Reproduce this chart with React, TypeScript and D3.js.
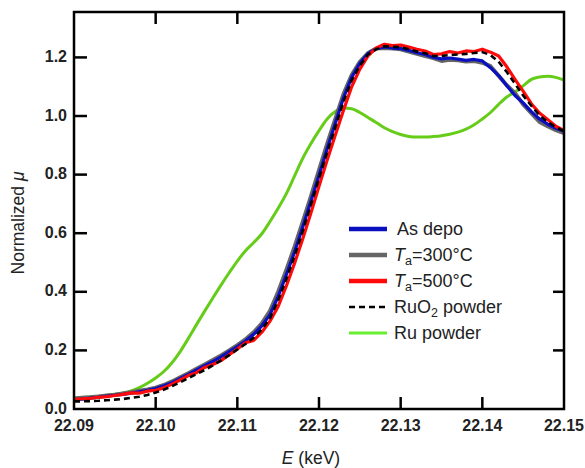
import React from 'react';
import * as d3 from 'd3';

// energy grid (keV), 1 eV steps
const energy = d3.range(61).map(i => +(22.09 + i * 0.001).toFixed(3));

const asDepo = [
  0.032, 0.034, 0.037, 0.040, 0.044, 0.047, 0.050, 0.054, 0.059, 0.064,
  0.070, 0.079, 0.090, 0.104, 0.118, 0.133, 0.148, 0.162, 0.178, 0.196,
  0.213, 0.232, 0.255, 0.284, 0.322, 0.384, 0.458, 0.535, 0.620, 0.708,
  0.797, 0.888, 0.975, 1.062, 1.132, 1.180, 1.213, 1.230, 1.236, 1.232,
  1.230, 1.224, 1.216, 1.210, 1.200, 1.195, 1.198, 1.194, 1.190, 1.193,
  1.188, 1.165, 1.138, 1.103, 1.070, 1.045, 1.015, 0.990, 0.972, 0.958,
  0.948,
];

const ta300 = [
  0.036, 0.038, 0.040, 0.043, 0.046, 0.049, 0.053, 0.057, 0.062, 0.067,
  0.073, 0.082, 0.094, 0.108, 0.122, 0.137, 0.152, 0.167, 0.183, 0.200,
  0.218, 0.238, 0.262, 0.292, 0.335, 0.400, 0.475, 0.553, 0.638, 0.725,
  0.815, 0.905, 0.990, 1.075, 1.140, 1.185, 1.215, 1.230, 1.232, 1.230,
  1.228, 1.220, 1.212, 1.205, 1.198, 1.188, 1.192, 1.190, 1.186, 1.188,
  1.182, 1.170, 1.137, 1.105, 1.078, 1.040, 1.010, 0.980, 0.965, 0.952,
  0.942,
];

const ta500 = [
  0.033, 0.035, 0.036, 0.040, 0.042, 0.046, 0.050, 0.055, 0.054, 0.061,
  0.064, 0.072, 0.085, 0.099, 0.114, 0.124, 0.142, 0.152, 0.165, 0.185,
  0.205, 0.226, 0.234, 0.262, 0.300, 0.350, 0.420, 0.497, 0.580, 0.668,
  0.760, 0.850, 0.935, 1.020, 1.100, 1.160, 1.205, 1.232, 1.245, 1.240,
  1.242, 1.235, 1.228, 1.222, 1.210, 1.212, 1.220, 1.215, 1.222, 1.220,
  1.228, 1.218, 1.205, 1.168, 1.125, 1.085, 1.042, 1.010, 0.988, 0.965,
  0.950,
];

const ruo2 = [
  0.026, 0.026, 0.027, 0.028, 0.030, 0.032, 0.034, 0.038, 0.042, 0.048,
  0.056, 0.066, 0.078, 0.091, 0.105, 0.119, 0.133, 0.149, 0.166, 0.184,
  0.203, 0.222, 0.243, 0.272, 0.310, 0.372, 0.444, 0.522, 0.607, 0.697,
  0.787, 0.877, 0.962, 1.050, 1.122, 1.172, 1.210, 1.228, 1.238, 1.236,
  1.235, 1.228, 1.220, 1.214, 1.205, 1.205, 1.208, 1.210, 1.212, 1.215,
  1.218, 1.208, 1.185, 1.150, 1.110, 1.070, 1.035, 1.002, 0.980, 0.962,
  0.948,
];

const ru = [
  0.037, 0.039, 0.041, 0.043, 0.046, 0.050, 0.055, 0.062, 0.073, 0.088,
  0.106, 0.128, 0.158, 0.196, 0.241, 0.288, 0.334, 0.379, 0.423, 0.465,
  0.505, 0.540, 0.568, 0.598, 0.640, 0.685, 0.735, 0.795, 0.855, 0.905,
  0.950, 0.990, 1.015, 1.027, 1.025, 1.012, 0.995, 0.978, 0.960, 0.947,
  0.937, 0.930, 0.928, 0.928, 0.930, 0.933, 0.938, 0.945, 0.955, 0.970,
  0.990, 1.012, 1.040, 1.065, 1.082, 1.103, 1.125, 1.133, 1.136, 1.132,
  1.123,
];

const xTicks = [22.09, 22.10, 22.11, 22.12, 22.13, 22.14, 22.15];
const yTicks = [0.0, 0.2, 0.4, 0.6, 0.8, 1.0, 1.2];

const W = 585;
const H = 468;
const m = { left: 74, right: 564, top: 12, bottom: 409 };

const App = () => {
  const x = d3.scaleLinear().domain([22.09, 22.15]).range([m.left, m.right]);
  const y = d3.scaleLinear().domain([0, 1.355]).range([m.bottom, m.top]);

  const makeLine = (curve: d3.CurveFactory) => d3.line<number>()
    .x((_, i) => x(energy[i]))
    .y(d => y(d))
    .curve(curve);
  const rough = makeLine(d3.curveLinear);
  const smooth = makeLine(d3.curveMonotoneX);

  const series = [
    { key: 'ru', values: ru, color: '#66cc1a', width: 3, dash: null, gen: smooth },
    { key: 'ta300', values: ta300, color: '#666666', width: 4, dash: null, gen: rough },
    { key: 'asdepo', values: asDepo, color: '#0a10c0', width: 3.2, dash: null, gen: rough },
    { key: 'ta500', values: ta500, color: '#ff0a0a', width: 3.2, dash: null, gen: rough },
    { key: 'ruo2', values: ruo2, color: '#000000', width: 2.6, dash: '6,4', gen: rough },
  ];

  const font = '"Liberation Sans", Arial, sans-serif';
  const legendX0 = 349;
  const legendX1 = 387;
  const legendTextX = 394;
  const legendY = [229, 255, 281, 307, 333];

  return (
    <svg width={W} height={H} style={{ position: 'absolute', left: 0, top: 0, background: '#fff' }}
      fontFamily={font}>
      <defs>
        <clipPath id="plot">
          <rect x={m.left} y={m.top} width={m.right - m.left} height={m.bottom - m.top} />
        </clipPath>
      </defs>

      <g clipPath="url(#plot)">
        {series.map(s => (
          <path key={s.key} d={s.gen(s.values) || ''} fill="none" stroke={s.color}
            strokeWidth={s.width} strokeDasharray={s.dash || undefined}
            strokeLinejoin="round" />
        ))}
      </g>

      {/* frame */}
      <rect x={m.left} y={m.top} width={m.right - m.left} height={m.bottom - m.top}
        fill="none" stroke="#000" strokeWidth={2.5} />

      {/* x ticks, inward top and bottom */}
      {xTicks.slice(1, -1).map(t => (
        <g key={'xt' + t} stroke="#000" strokeWidth={2.5}>
          <line x1={x(t)} x2={x(t)} y1={m.bottom} y2={m.bottom - 12} />
          <line x1={x(t)} x2={x(t)} y1={m.top} y2={m.top + 12} />
        </g>
      ))}
      {xTicks.map(t => (
        <text key={'xl' + t} x={x(t)} y={431} textAnchor="middle" fontSize={16}
          fontWeight="bold" fill="#222">{t.toFixed(2)}</text>
      ))}

      {/* y ticks, inward left and right */}
      {yTicks.slice(1).map(t => (
        <g key={'yt' + t} stroke="#000" strokeWidth={2.5}>
          <line x1={m.left} x2={m.left + 13} y1={y(t)} y2={y(t)} />
          <line x1={m.right - 11} x2={m.right} y1={y(t)} y2={y(t)} />
        </g>
      ))}
      {yTicks.map(t => (
        <text key={'yl' + t} x={67} y={y(t) + 4.5} textAnchor="end" fontSize={16}
          fontWeight="bold" fill="#222">{t.toFixed(1)}</text>
      ))}

      {/* axis titles */}
      <text x={311} y={464} textAnchor="middle" fontSize={17.5} fill="#222">
        <tspan fontStyle="italic">E</tspan> (keV)
      </text>
      <text transform="translate(24,223) rotate(-90)" textAnchor="middle" fontSize={17.5} fill="#222">
        Normalized <tspan fontStyle="italic">μ</tspan>
      </text>

      {/* legend */}
      <g fontSize={18} fill="#222">
        {[series[2], series[1], series[3], series[4], series[0]].map((s, i) => (
          <line key={'lg' + s.key} x1={legendX0} x2={legendX1} y1={legendY[i]} y2={legendY[i]}
            stroke={s.key === 'ru' ? '#66ee33' : s.color}
            strokeWidth={s.key === 'ruo2' ? 2.6 : s.key === 'ru' ? 3 : 4.5}
            strokeDasharray={s.dash || undefined} />
        ))}
        <text x={legendTextX + 3} y={legendY[0] + 6}>As depo</text>
        <text x={legendTextX} y={legendY[1] + 6}>
          <tspan fontStyle="italic">T</tspan><tspan fontSize={12.5} dy={4}>a</tspan><tspan dy={-4}>=300°C</tspan>
        </text>
        <text x={legendTextX} y={legendY[2] + 6}>
          <tspan fontStyle="italic">T</tspan><tspan fontSize={12.5} dy={4}>a</tspan><tspan dy={-4}>=500°C</tspan>
        </text>
        <text x={legendTextX} y={legendY[3] + 6}>
          RuO<tspan fontSize={12.5} dy={4}>2</tspan><tspan dy={-4}> powder</tspan>
        </text>
        <text x={legendTextX} y={legendY[4] + 6}>Ru powder</text>
      </g>
    </svg>
  );
};

export default App;
